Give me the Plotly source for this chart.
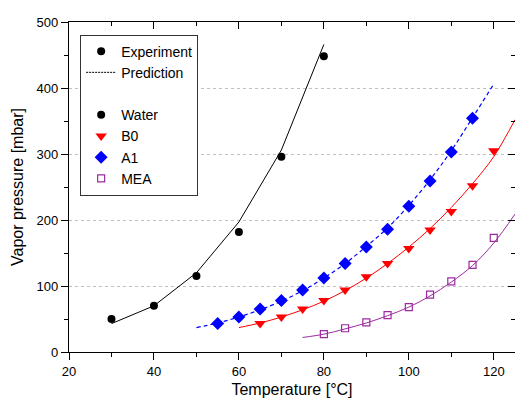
import plotly.graph_objects as go

# ---- data ----
water_T = [30, 40, 50, 60, 70, 80]
water_exp = [50, 70, 115, 182, 296, 448]
water_pred_T = [30, 40, 50, 60, 70, 80]
water_pred = [43, 70, 120, 197, 306, 466]

a1_T = [55, 60, 65, 70, 75, 80, 85, 90, 95, 100, 105, 110, 115]
a1_exp = [43, 53, 65, 78, 94, 112, 134, 159, 186, 221, 259, 303, 354]
a1_pred_T = [50, 55, 60, 65, 70, 75, 80, 85, 90, 95, 100, 105, 110, 115, 120]
a1_pred = [37, 44, 53, 64, 77, 93, 112, 134, 160, 188, 222, 261, 305, 355, 406]

b0_T = [65, 70, 75, 80, 85, 90, 95, 100, 105, 110, 115, 120]
b0_exp = [43, 53, 65, 78, 94, 114, 134, 157, 185, 213, 252, 305]
b0_pred_T = [60, 65, 70, 75, 80, 85, 90, 95, 100, 105, 110, 115, 120, 125]
b0_pred = [37, 44, 53, 64, 77, 93, 112, 134, 159, 187, 219, 255, 296, 352]

mea_T = [80, 85, 90, 95, 100, 105, 110, 115, 120]
mea_exp = [27, 36, 45, 56, 68, 87, 107, 132, 173]
mea_pred_T = [75, 80, 85, 90, 95, 100, 105, 110, 115, 120, 125]
mea_pred = [22, 27, 35, 44, 55, 68, 85, 106, 131, 165, 209]

x_range = [20, 125]
y_range = [0, 500]

BLACK = "#000000"
RED = "#ff0000"
BLUE = "#0000ff"
PURPLE = "#9b2aa0"
FONT = "Liberation Sans, Arial, sans-serif"

fig = go.Figure()

# prediction lines
fig.add_trace(go.Scatter(x=water_pred_T, y=water_pred, mode="lines",
                         line=dict(color=BLACK, width=1), showlegend=False))
fig.add_trace(go.Scatter(x=a1_pred_T, y=a1_pred, mode="lines",
                         line=dict(color=BLUE, width=1.2, dash="4px,3px"), line_shape="spline",
                         showlegend=False))
fig.add_trace(go.Scatter(x=b0_pred_T, y=b0_pred, mode="lines",
                         line=dict(color=RED, width=1), line_shape="spline", showlegend=False))
fig.add_trace(go.Scatter(x=mea_pred_T, y=mea_pred, mode="lines",
                         line=dict(color=PURPLE, width=1), line_shape="spline", showlegend=False))

# experiment markers
fig.add_trace(go.Scatter(x=water_T, y=water_exp, mode="markers",
                         marker=dict(symbol="circle", size=8, color=BLACK), showlegend=False))
fig.add_trace(go.Scatter(x=a1_T, y=a1_exp, mode="markers",
                         marker=dict(symbol="diamond", size=10, color=BLUE), showlegend=False))
fig.add_trace(go.Scatter(x=b0_T, y=b0_exp, mode="markers",
                         marker=dict(symbol="triangle-down", size=10, color=RED), showlegend=False))
fig.add_trace(go.Scatter(x=mea_T, y=mea_exp, mode="markers",
                         marker=dict(symbol="square-open", size=7, color=PURPLE,
                                     line=dict(width=1.2, color=PURPLE)), showlegend=False))

# legend entries
fig.add_trace(go.Scatter(x=[None], y=[None], mode="markers", name="Experiment",
                         marker=dict(symbol="circle", size=8, color=BLACK)))
fig.add_trace(go.Scatter(x=[None], y=[None], mode="lines", name="Prediction",
                         line=dict(color=BLACK, width=1, dash="2px,1px")))
fig.add_trace(go.Scatter(x=[None], y=[None], mode="markers", name=" ",
                         marker=dict(size=1, color="rgba(0,0,0,0)")))
fig.add_trace(go.Scatter(x=[None], y=[None], mode="markers", name="Water",
                         marker=dict(symbol="circle", size=8, color=BLACK)))
fig.add_trace(go.Scatter(x=[None], y=[None], mode="markers", name="B0",
                         marker=dict(symbol="triangle-down", size=10, color=RED)))
fig.add_trace(go.Scatter(x=[None], y=[None], mode="markers", name="A1",
                         marker=dict(symbol="diamond", size=10, color=BLUE)))
fig.add_trace(go.Scatter(x=[None], y=[None], mode="markers", name="MEA",
                         marker=dict(symbol="square-open", size=7, color=PURPLE,
                                     line=dict(width=1.2, color=PURPLE))))

# invisible trace on the mirror axes so they are drawn
fig.add_trace(go.Scatter(x=[None], y=[None], xaxis="x2", yaxis="y2", mode="markers",
                         showlegend=False, hoverinfo="skip"))

fig.update_layout(
    width=515, height=401,
    margin=dict(l=69, r=0, t=22, b=49, autoexpand=False),
    paper_bgcolor="white", plot_bgcolor="white",
    font=dict(family=FONT, size=13, color="black"),
    legend=dict(x=0.025, y=0.962, xanchor="left", yanchor="top",
                bgcolor="white", bordercolor="#333333", borderwidth=1,
                font=dict(family=FONT, size=14, color="black"),
                itemwidth=30, tracegroupgap=0),
)

fig.update_layout(
    xaxis=dict(
        range=x_range, dtick=20, tick0=20,
        showline=True, linecolor="black", linewidth=1.2, mirror=False,
        ticks="outside", ticklen=7, tickwidth=1.2, tickcolor="black",
        minor=dict(dtick=10, ticks="outside", ticklen=4, tickwidth=1.2, tickcolor="black", showgrid=False),
        showgrid=False, zeroline=False,
        title=dict(text="Temperature [°C]", font=dict(family=FONT, size=16), standoff=6),
        tickfont=dict(family=FONT, size=13),
    ),
    yaxis=dict(
        range=y_range, dtick=100, tick0=0,
        showline=True, linecolor="black", linewidth=1.2, mirror=False,
        ticks="outside", ticklen=7, tickwidth=1.2, tickcolor="black",
        minor=dict(dtick=50, ticks="outside", ticklen=4, tickwidth=1.2, tickcolor="black", showgrid=False),
        showgrid=True, gridcolor="#c0c0c0", griddash="dot", gridwidth=1,
        zeroline=False,
        title=dict(text="Vapor pressure [mbar]", font=dict(family=FONT, size=16), standoff=8),
        tickfont=dict(family=FONT, size=13),
    ),
    xaxis2=dict(
        range=x_range, dtick=20, tick0=20, overlaying="x", side="top", anchor="y2",
        showline=True, linecolor="black", linewidth=1.2,
        ticks="inside", ticklen=7, tickwidth=1.2, tickcolor="black",
        minor=dict(dtick=10, ticks="inside", ticklen=4, tickwidth=1.2, tickcolor="black", showgrid=False),
        showticklabels=False, showgrid=False, zeroline=False,
    ),
    yaxis2=dict(
        range=y_range, dtick=100, tick0=0, overlaying="y", side="right", anchor="x2",
        showline=True, linecolor="black", linewidth=1.2,
        ticks="inside", ticklen=7, tickwidth=1.2, tickcolor="black",
        minor=dict(dtick=50, ticks="inside", ticklen=4, tickwidth=1.2, tickcolor="black", showgrid=False),
        showticklabels=False, showgrid=False, zeroline=False,
    ),
)

fig.write_html("out.html", config={"displayModeBar": False},
               post_script="document.body.style.margin='0px';document.body.style.overflow='hidden';")
